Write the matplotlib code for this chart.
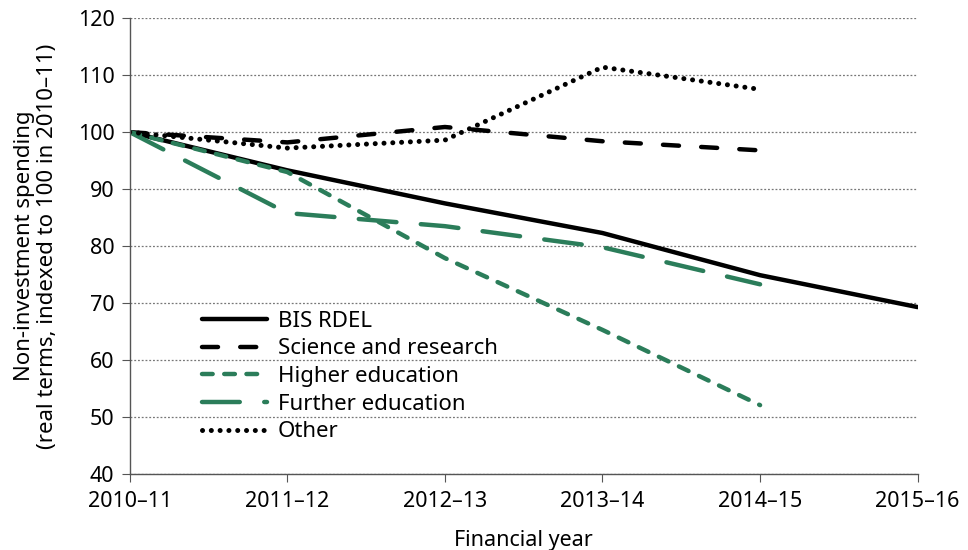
import matplotlib.pyplot as plt

plt.rcParams['font.family'] = ['Noto Sans', 'DejaVu Sans']

years = ['2010–11', '2011–12', '2012–13', '2013–14', '2014–15', '2015–16']

bis_rdel = [100, 93.3, 87.5, 82.3, 74.9, 69.3]
science = [100, 98.2, 100.9, 98.4, 96.8]
higher_ed = [100, 93.0, 77.9, 65.3, 52.1]
further_ed = [100, 85.8, 83.5, 79.8, 73.3]
other = [100, 97.2, 98.6, 111.4, 107.5]

green = '#2b7d5a'

fig = plt.figure(figsize=(9.68, 5.5), dpi=100)
ax = fig.add_axes([0.134, 0.138, 0.814, 0.829])

x_all = list(range(len(years)))

ax.plot(x_all, bis_rdel, color='black', lw=3.2, solid_capstyle='round', label='BIS RDEL')
ax.plot(x_all[:5], science, color='black', lw=3.2, dashes=(3.6, 5.0),
        dash_capstyle='round', label='Science and research')
ax.plot(x_all[:5], higher_ed, color=green, lw=3.2, dashes=(2.4, 2.6),
        dash_capstyle='round', label='Higher education')
ax.plot(x_all[:5], further_ed, color=green, lw=3.2, dashes=(8.5, 5.5),
        dash_capstyle='round', label='Further education')
ax.plot(x_all[:5], other, color='black', lw=3.6, dashes=(0.01, 1.75),
        dash_capstyle='round', label='Other')

ax.set_xlim(0, 5)
ax.set_ylim(40, 120)
ax.set_yticks(range(40, 121, 10))
ax.set_xticks(x_all)
ax.set_xticklabels(years)
ax.tick_params(axis='both', labelsize=15.5, direction='out', length=6, color='#555555')
ax.tick_params(axis='x', pad=6)
ax.tick_params(axis='y', pad=5)

for s in ['top', 'right']:
    ax.spines[s].set_visible(False)
for s in ['left', 'bottom']:
    ax.spines[s].set_color('#555555')
    ax.spines[s].set_linewidth(1.0)

ax.yaxis.grid(True, linestyle=(0, (1.5, 1.5)), color='#777777', lw=0.9)
ax.set_axisbelow(True)

ax.set_xlabel('Financial year', fontsize=15.5, labelpad=13)
ax.set_ylabel('Non-investment spending\n(real terms, indexed to 100 in 2010–11)',
              fontsize=16, labelpad=14, linespacing=1.15)

leg = ax.legend(loc='lower left', bbox_to_anchor=(0.081, 0.05), frameon=False,
                fontsize=16, handlelength=2.9, handletextpad=0.5,
                labelspacing=0.3, borderaxespad=0)

fig.savefig('out.png', dpi=100)
